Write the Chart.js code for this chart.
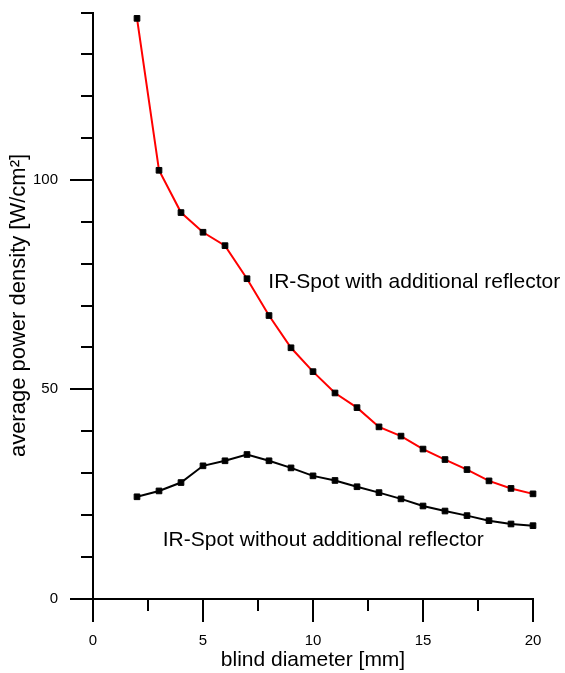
<!DOCTYPE html>
<html><head><meta charset="utf-8">
<script src="https://cdn.jsdelivr.net/npm/chart.js@4"></script>
<style>html,body{margin:0;padding:0;background:#fff}canvas{display:block}</style>
</head><body>
<canvas id="c" width="565" height="673"></canvas>
<script>
// ---- data ----
const diameters = [2,3,4,5,6,7,8,9,10,11,12,13,14,15,16,17,18,19,20];
const withReflector = [138.6,102.3,92.2,87.5,84.3,76.4,67.6,59.9,54.2,49.1,45.6,41.0,38.8,35.7,33.2,30.8,28.1,26.3,25.0];
const withoutReflector = [24.3,25.7,27.7,31.7,32.9,34.4,32.9,31.2,29.3,28.2,26.7,25.3,23.8,22.1,20.9,19.8,18.6,17.8,17.4];
const xTickLabels = [0,5,10,15,20];
const yTickLabels = [0,50,100];
const seriesNames = ['IR-Spot with additional reflector','IR-Spot without additional reflector'];
const xTitle = 'blind diameter [mm]';
const yTitle = 'average power density [W/cm\u00B2]';

const FONT = '"Liberation Sans", Arial, sans-serif';
Chart.defaults.color = '#000';
Chart.defaults.font.family = FONT;

// annotation anchors in data coordinates (left, baseline)
const notes = [
  {text: seriesNames[0], x: 7.97, y: 74.3},
  {text: seriesNames[1], x: 3.17, y: 12.6}
];

const tickPlugin = {
  id: 'ticks',
  afterDraw(chart) {
    const {ctx, scales: {x, y}} = chart;
    ctx.save();
    ctx.strokeStyle = '#000';
    ctx.lineWidth = 2;
    ctx.lineCap = 'butt';
    const base = Math.round(y.getPixelForValue(0) - 1) + 1;
    const left = Math.round(x.getPixelForValue(0) - 1) + 1;
    for (let v = 0; v <= 20 + 1e-9; v += 2.5) {
      const px = Math.round(x.getPixelForValue(v) - 1) + 1;
      const len = xTickLabels.includes(v) ? 23 : 12;
      ctx.beginPath(); ctx.moveTo(px, base - 1); ctx.lineTo(px, base + len); ctx.stroke();
    }
    for (let v = 0; v <= 140 + 1e-9; v += 10) {
      const py = Math.round(y.getPixelForValue(v) - 1) + 1;
      const len = yTickLabels.includes(v) ? 23 : 12;
      ctx.beginPath(); ctx.moveTo(left + 1, py); ctx.lineTo(left - len, py); ctx.stroke();
    }
    ctx.restore();
  },
  afterDatasetsDraw(chart) {
    const {ctx, scales: {x, y}} = chart;
    ctx.save();
    ctx.fillStyle = '#000';
    ctx.font = '21px ' + FONT;
    ctx.textAlign = 'left';
    ctx.textBaseline = 'alphabetic';
    notes.forEach(n => ctx.fillText(n.text, x.getPixelForValue(n.x), y.getPixelForValue(n.y)));
    ctx.restore();
  }
};

const mk = (arr) => diameters.map((d, i) => ({x: d, y: arr[i]}));
const noPad = (s) => { s.paddingTop = 0; s.paddingBottom = 0; s.paddingLeft = 0; s.paddingRight = 0; };

new Chart(document.getElementById('c'), {
  type: 'line',
  data: {
    datasets: [
      {label: seriesNames[0], data: mk(withReflector), borderColor: '#ff0000', borderWidth: 2,
       pointStyle: 'rect', pointRadius: 4, pointBackgroundColor: '#000', pointBorderColor: '#000', pointBorderWidth: 1,
       tension: 0, clip: false},
      {label: seriesNames[1], data: mk(withoutReflector), borderColor: '#000', borderWidth: 2,
       pointStyle: 'rect', pointRadius: 4, pointBackgroundColor: '#000', pointBorderColor: '#000', pointBorderWidth: 1,
       tension: 0, clip: false}
    ]
  },
  options: {
    responsive: false,
    animation: false,
    layout: {padding: {left: 0, right: 32, top: 12.5, bottom: 0}},
    plugins: {legend: {display: false}, tooltip: {enabled: false}},
    scales: {
      x: {
        type: 'linear', min: 0, max: 20,
        afterFit(s) { s.height = 74.5; noPad(s); },
        grid: {display: false, drawTicks: false},
        border: {display: true, color: '#000', width: 2},
        ticks: {stepSize: 2.5, autoSkip: false, maxRotation: 0, padding: 33, font: {size: 15},
                callback: v => xTickLabels.includes(v) ? String(v) : ''},
        title: {display: true, text: xTitle, font: {size: 21}, padding: {top: 0, bottom: 0}}
      },
      y: {
        type: 'linear', min: 0, max: 140,
        afterFit(s) { s.width = 93; noPad(s); },
        grid: {display: false, drawTicks: false},
        border: {display: true, color: '#000', width: 2},
        ticks: {stepSize: 10, autoSkip: false, padding: 35, font: {size: 15},
                callback: v => yTickLabels.includes(v) ? String(v) : ''},
        title: {display: true, text: yTitle, font: {size: 22}, padding: {top: 6, bottom: 0}}
      }
    }
  },
  plugins: [tickPlugin]
});
</script>
</body></html>
